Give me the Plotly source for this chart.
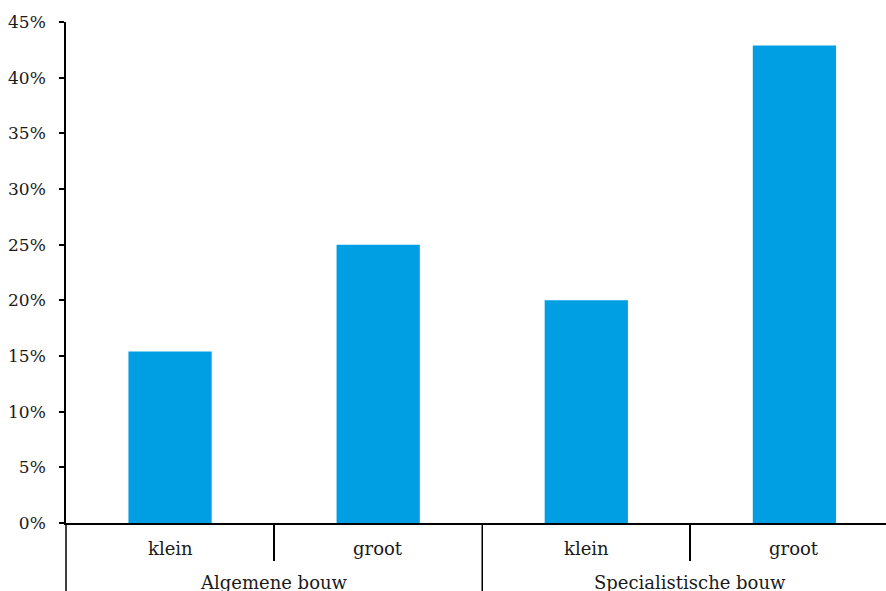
import plotly.graph_objects as go

groups = ["Algemene bouw", "Algemene bouw", "Specialistische bouw", "Specialistische bouw"]
sizes = ["klein", "groot", "klein", "groot"]
values = [0.154, 0.25, 0.20, 0.429]
ytick_vals = [0, 0.05, 0.10, 0.15, 0.20, 0.25, 0.30, 0.35, 0.40, 0.45]

idx = list(range(len(values)))
x_range = [-0.5, 3.44]
group_names = list(dict.fromkeys(groups))
group_centers = [sum(i for i, g in zip(idx, groups) if g == gn) / groups.count(gn) for gn in group_names]
group_starts = [min(i for i, g in zip(idx, groups) if g == gn) - 0.5 for gn in group_names]
inner_bounds = [i + 0.5 for i in idx[:-1] if groups[i] == groups[i + 1]]

fig = go.Figure(go.Bar(
    x=idx,
    y=values,
    marker=dict(color="#009FE3", line=dict(width=0)),
    width=0.4,
))

font = dict(family="DejaVu Serif", size=17, color="#1a1a1a")
label_font = dict(family="DejaVu Serif", size=18, color="#1a1a1a")

fig.update_layout(
    width=886, height=591,
    margin=dict(l=66, r=0, t=22, b=68),
    plot_bgcolor="white", paper_bgcolor="white",
    font=font,
    showlegend=False,
)
fig.update_yaxes(
    range=[0, 0.45], tickvals=ytick_vals, tickformat=".0%",
    showgrid=False, zeroline=False,
    showline=True, linecolor="black", linewidth=1.5,
    ticks="outside", ticklen=5, tickcolor="black", tickwidth=1.5,
    ticklabelstandoff=10,
)
fig.update_xaxes(
    range=x_range,
    showgrid=False, zeroline=False,
    showline=True, linecolor="black", linewidth=1.5,
    tickvals=inner_bounds, showticklabels=False,
    ticks="outside", ticklen=36, tickcolor="black", tickwidth=1.5,
)

for i, s in zip(idx, sizes):
    fig.add_annotation(x=i, y=0, xref="x", yref="paper", text=s, showarrow=False,
                       yanchor="middle", yshift=-25, font=label_font)
for c, gn in zip(group_centers, group_names):
    fig.add_annotation(x=c, y=0, xref="x", yref="paper", text=gn, showarrow=False,
                       yanchor="middle", yshift=-59, font=label_font)
for gs in group_starts:
    if gs <= x_range[0]:
        # boundary at the left edge of the plot: use paper coords so it is not clipped
        fig.add_shape(type="line", x0=0, x1=0, xref="paper", y0=0, y1=-0.2, yref="paper",
                      line=dict(color="black", width=1.5))
    else:
        fig.add_shape(type="line", x0=gs, x1=gs, xref="x", y0=0, y1=-0.2, yref="paper",
                      line=dict(color="black", width=1.5))

fig.write_html("out.html")
